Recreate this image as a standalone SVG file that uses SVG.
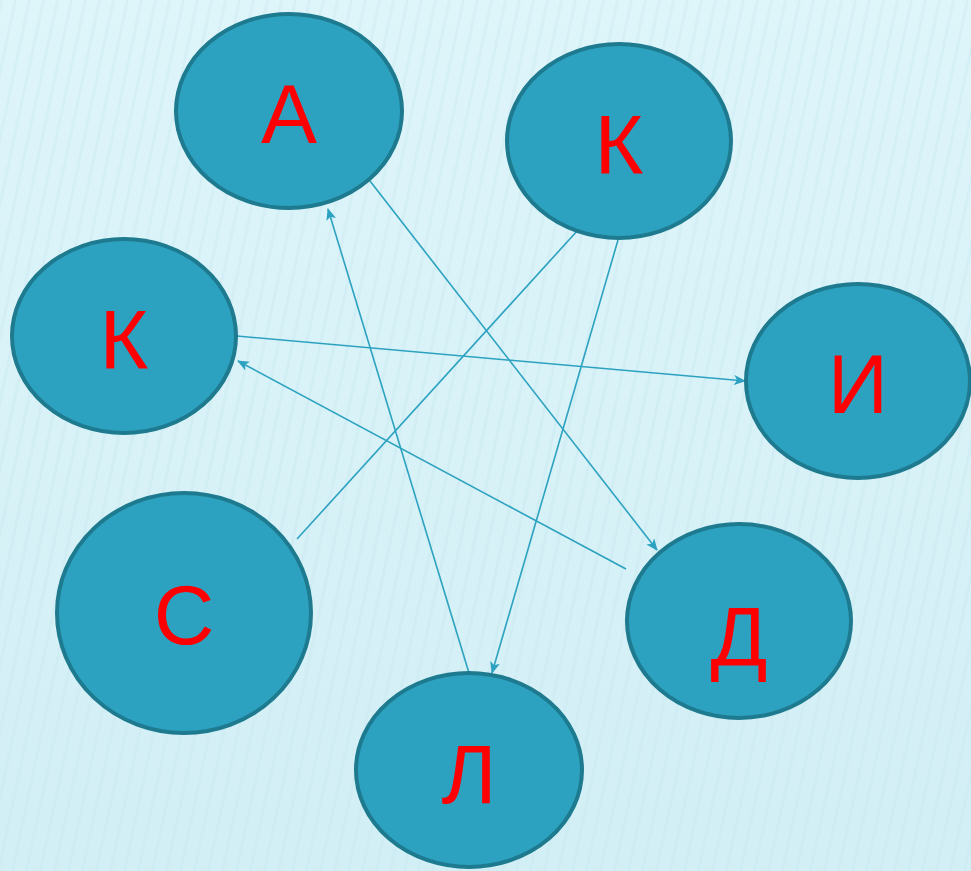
<svg xmlns="http://www.w3.org/2000/svg" width="971" height="871" viewBox="0 0 971 871">
<defs>
<style>
.node ellipse{fill:#2ca2c0;stroke:#1e7a8f;stroke-width:4}
.node text{font-family:"Liberation Sans",Arial,sans-serif;font-size:84px;fill:#ff0000;text-anchor:middle}
.edge{stroke:#2ca2c0;stroke-width:1.6;fill:none}
</style>
<marker id="arr" viewBox="0 0 12 10" refX="11" refY="5" markerWidth="12" markerHeight="10" markerUnits="userSpaceOnUse" orient="auto">
<path d="M0,0 L12,5 L0,10 L3,5 z" fill="#2ca2c0"/>
</marker>
<linearGradient id="bg" x1="0" y1="0" x2="0" y2="1">
<stop offset="0" stop-color="#def5fa"/>
<stop offset="1" stop-color="#d2eff5"/>
</linearGradient>
<pattern id="stripes" width="14" height="871" patternUnits="userSpaceOnUse" patternTransform="skewX(-12)">
<rect x="0" y="0" width="3" height="871" fill="#c4e6ee" opacity="0.5"/>
</pattern>
</defs>
<rect width="971" height="871" fill="url(#bg)"/>
<rect width="971" height="871" fill="url(#stripes)" opacity="0.6"/>
<g id="connectors">
<line class="edge" x1="370" y1="181" x2="657" y2="550" marker-end="url(#arr)"/>
<line class="edge" x1="578" y1="230" x2="297" y2="539"/>
<line class="edge" x1="618" y1="240" x2="492" y2="673" marker-end="url(#arr)"/>
<line class="edge" x1="237" y1="336" x2="745" y2="381" marker-end="url(#arr)"/>
<line class="edge" x1="626" y1="569" x2="238" y2="361" marker-end="url(#arr)"/>
<line class="edge" x1="469" y1="673" x2="328" y2="209" marker-end="url(#arr)"/>
</g>
<g id="node-a" class="node"><ellipse cx="289" cy="111" rx="113" ry="97"/><text x="289" y="143">А</text></g>
<g id="node-k1" class="node"><ellipse cx="619" cy="141" rx="112" ry="97"/><text x="619" y="173">К</text></g>
<g id="node-k2" class="node"><ellipse cx="124" cy="336" rx="112" ry="97"/><text x="124" y="368">К</text></g>
<g id="node-i" class="node"><ellipse cx="858" cy="381" rx="112" ry="97"/><text x="858" y="413">И</text></g>
<g id="node-s" class="node"><ellipse cx="184" cy="613" rx="127" ry="120"/><text x="184" y="644">С</text></g>
<g id="node-d" class="node"><ellipse cx="739" cy="621" rx="112" ry="97"/><text x="739" y="665">Д</text></g>
<g id="node-l" class="node"><ellipse cx="469" cy="770" rx="113" ry="97"/><text x="469" y="803">Л</text></g>
</svg>
